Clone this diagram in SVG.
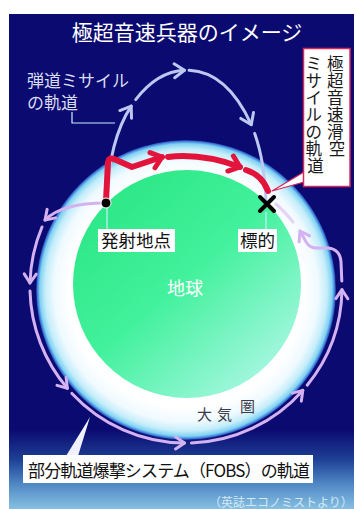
<svg xmlns="http://www.w3.org/2000/svg" width="356" height="509" viewBox="0 0 356 509">
  <defs>
    <linearGradient id="bg" x1="0" y1="14" x2="0" y2="509" gradientUnits="userSpaceOnUse">
      <stop offset="0" stop-color="#0b0a70"/>
      <stop offset="0.84" stop-color="#0b0a70"/>
      <stop offset="0.9" stop-color="#1e4096"/>
      <stop offset="0.95" stop-color="#5088c4"/>
      <stop offset="1" stop-color="#86c0e2"/>
    </linearGradient>
    <radialGradient id="atmo" cx="186" cy="290" r="150" gradientUnits="userSpaceOnUse">
      <stop offset="0" stop-color="#ffffff"/>
      <stop offset="0.78" stop-color="#ffffff"/>
      <stop offset="0.88" stop-color="#f0faff"/>
      <stop offset="0.94" stop-color="#c4edfa"/>
      <stop offset="0.975" stop-color="#80d2f2"/>
      <stop offset="0.992" stop-color="#3a78d8"/>
      <stop offset="1" stop-color="#1a2fa0"/>
    </radialGradient>
    <linearGradient id="earth" x1="100" y1="180" x2="290" y2="395" gradientUnits="userSpaceOnUse">
      <stop offset="0" stop-color="#2ae684"/>
      <stop offset="0.45" stop-color="#42f19c"/>
      <stop offset="1" stop-color="#bcf8f0"/>
    </linearGradient>
    <marker id="ah-ball" markerUnits="userSpaceOnUse" markerWidth="24" markerHeight="24" refX="0" refY="0" orient="auto" overflow="visible">
      <path d="M-10,-7 L0,0 L-10,7" fill="none" stroke="#bcc8f2" stroke-width="3" stroke-linecap="round" stroke-linejoin="round"/>
    </marker>
    <marker id="ah-red" markerUnits="userSpaceOnUse" markerWidth="24" markerHeight="24" refX="0" refY="0" orient="auto" overflow="visible">
      <path d="M-10,-8 L0,0 L-10,8" fill="none" stroke="#e3143c" stroke-width="5" stroke-linecap="round" stroke-linejoin="round"/>
    </marker>
    <marker id="ah-fobs" markerUnits="userSpaceOnUse" markerWidth="24" markerHeight="24" refX="0" refY="0" orient="auto" overflow="visible">
      <path d="M-9,-6 L0,0 L-9,6" fill="none" stroke="#d4b2f2" stroke-width="3" stroke-linecap="round" stroke-linejoin="round"/>
    </marker>
  </defs>
  <style>
    text { font-family: "Noto Sans CJK JP", "Noto Sans", sans-serif; }
    .ball { fill: none; stroke: #bcc8f2; stroke-width: 3; stroke-linecap: round; marker-end: url(#ah-ball); }
    .red { fill: none; stroke: #e3143c; stroke-width: 6; stroke-linecap: round; stroke-linejoin: round; }
    .fobs { fill: none; stroke: #d4b2f2; stroke-width: 3; stroke-linecap: round; stroke-linejoin: round; marker-end: url(#ah-fobs); }
    .lead { fill: none; stroke: #c8f0ff; stroke-width: 1.2; }
    .box { fill: #ffffff; }
    .lbl { fill: #111111; font-size: 17.5px; }
    .col { font-size: 16.5px; fill: #1a1a1a; text-anchor: middle; }
  </style>

  <!-- backdrop -->
  <rect x="0" y="0" width="356" height="509" fill="#ffffff"/>
  <rect x="9" y="14" width="345" height="495" fill="url(#bg)"/>

  <!-- atmosphere and planet -->
  <g id="atmosphere">
    <circle cx="186" cy="290" r="150" fill="url(#atmo)"/>
    <text x="197" y="420" font-size="15" fill="#3c3c4c">大</text>
    <text x="217" y="420" font-size="15" fill="#3c3c4c">気</text>
    <text x="240" y="412" font-size="15" fill="#3c3c4c">圏</text>
  </g>
  <g id="earth-node">
    <circle cx="187" cy="284" r="114" fill="url(#earth)"/>
    <text x="185" y="295" font-size="18" fill="#ffffff" text-anchor="middle">地球</text>
  </g>

  <!-- title -->
  <g id="title">
    <text x="187" y="40" font-size="21" fill="#ffffff" text-anchor="middle">極超音速兵器のイメージ</text>
  </g>

  <g id="connectors">
    <!-- ballistic missile trajectory -->
    <path class="ball" d="M106,203 Q109.2,139.3 131.2,106.1"/>
    <path class="ball" d="M135.7,99.6 Q157.5,71.5 184.4,70.3"/>
    <path class="ball" d="M189.1,70.3 Q227.2,72 251.3,124.6"/>
    <path class="ball" d="M254.7,133.5 Q264.8,161.8 266,203" style="marker-end:none"/>
    <path class="lead" d="M72,112 V123 H115"/>

    <!-- FOBS trajectory -->
    <path class="fobs" d="M106,203 Q62,203 45,220"/>
    <path class="fobs" d="M42,227 A156,156 0 0 0 30,283"/>
    <path class="fobs" d="M30,291 A156,156 0 0 0 67.4,388.3"/>
    <path class="fobs" d="M71.9,393.4 A156,156 0 0 0 184.6,443"/>
    <path class="fobs" d="M191.4,443 A156,156 0 0 0 302.8,390.4"/>
    <path class="fobs" d="M307.2,385.2 A156,156 0 0 0 342,289.7"/>
    <path class="fobs" d="M341.8,281 L341,262 Q340,249 328,248 L315,248 Q308,247 305,240 L300,231"/>
    <path d="M293,222 Q284,211 276,204" fill="none" stroke="#d4b2f2" stroke-width="3" stroke-linecap="round" opacity="0.55"/>

    <!-- hypersonic glide vehicle trajectory -->
    <path class="red" d="M106,201 L108,162 Q109,157 114,159 L132,167 L162,157" marker-end="url(#ah-red)"/>
    <path class="red" d="M168,157 Q202,153 240,167" marker-end="url(#ah-red)"/>
    <path class="red" d="M246,170 Q262,175 268,191"/>

    <!-- label leaders -->
    <path class="lead" d="M107,208 V229"/>
    <path class="lead" d="M266,212 V229"/>
    <polygon points="90,417 66,456 78,456" fill="#f0f0ff"/>
    <polygon points="304,172 304,182 272,191" fill="#ffffff" stroke="#d8285a" stroke-width="1.2" stroke-linejoin="round"/>
  </g>

  <!-- launch site -->
  <g id="launch">
    <circle cx="106" cy="203" r="5" fill="#000000" stroke="#ffffff" stroke-width="1"/>
    <rect class="box" x="98" y="229" width="77" height="23"/>
    <text class="lbl" x="101" y="247">発射地点</text>
  </g>

  <!-- target -->
  <g id="target">
    <path d="M260,197 L274,211 M274,197 L260,211" stroke="#000000" stroke-width="4" stroke-linecap="round"/>
    <rect class="box" x="238" y="229" width="39" height="23"/>
    <text class="lbl" x="240" y="247">標的</text>
  </g>

  <!-- ballistic missile label -->
  <g id="ballistic-label">
    <text x="27" y="86.5" font-size="17" fill="#d8dcf0">弾道ミサイル</text>
    <text x="27" y="108.5" font-size="17" fill="#d8dcf0">の軌道</text>
  </g>

  <!-- hypersonic glide missile label, two vertical columns placed glyph by glyph -->
  <g id="glide-label">
    <rect x="303.5" y="48.5" width="46.5" height="138" fill="#ffffff" stroke="#d8285a" stroke-width="1.5"/>
    <text class="col">
      <tspan x="337" y="69.5">極</tspan>
      <tspan x="337" y="86.5">超</tspan>
      <tspan x="337" y="103.5">音</tspan>
      <tspan x="337" y="120.5">速</tspan>
      <tspan x="337" y="137.5">滑</tspan>
      <tspan x="337" y="154.5">空</tspan>
    </text>
    <text class="col">
      <tspan x="315.5" y="69.5">ミ</tspan>
      <tspan x="315.5" y="86.5">サ</tspan>
      <tspan x="315.5" y="103.5">イ</tspan>
      <tspan x="315.5" y="120.5">ル</tspan>
      <tspan x="315.5" y="137.5">の</tspan>
      <tspan x="315.5" y="154.5">軌</tspan>
      <tspan x="315.5" y="171.5">道</tspan>
    </text>
  </g>

  <!-- FOBS label -->
  <g id="fobs-label">
    <rect class="box" x="23" y="455" width="290" height="28"/>
    <text x="28" y="476.5" font-size="17" fill="#111111" textLength="282" lengthAdjust="spacing">部分軌道爆撃システム（FOBS）の軌道</text>
  </g>

  <!-- credit -->
  <g id="credit">
    <text x="209" y="507" font-size="12" fill="#d4e8f6">（英誌エコノミストより）</text>
  </g>
</svg>
